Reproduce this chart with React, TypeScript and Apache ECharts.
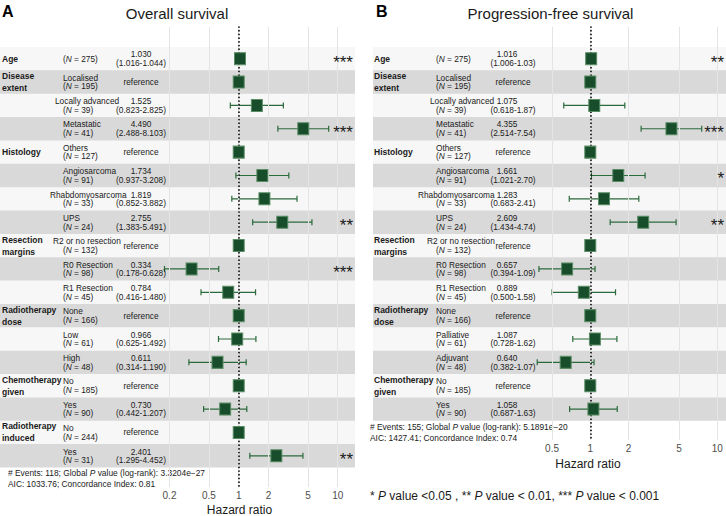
import React, { useEffect, useRef } from 'react';
import * as echarts from 'echarts';

const FONT = '"Liberation Sans", Arial, Helvetica, sans-serif';

// ---------- Panel A: Overall survival ----------
const osVariables = ['Age', 'Disease\nextent', '', '', 'Histology', '', '', '', 'Resection\nmargins', '', '', 'Radiotherapy\ndose', '', '', 'Chemotherapy\ngiven', '', 'Radiotherapy\ninduced', ''];
const osLevels = ['', 'Localised', 'Locally advanced', 'Metastatic', 'Others', 'Angiosarcoma', 'Rhabdomyosarcoma', 'UPS', 'R2 or no resection', 'R0 Resection', 'R1 Resection', 'None', 'Low', 'High', 'No', 'Yes', 'No', 'Yes'];
const osN = [275, 195, 39, 41, 127, 91, 33, 24, 132, 98, 45, 166, 61, 48, 185, 90, 244, 31];
const osHR = [1.030, null, 1.525, 4.490, null, 1.734, 1.819, 2.755, null, 0.334, 0.784, null, 0.966, 0.611, null, 0.730, null, 2.401];
const osLower = [1.016, null, 0.823, 2.488, null, 0.937, 0.852, 1.383, null, 0.178, 0.416, null, 0.625, 0.314, null, 0.442, null, 1.295];
const osUpper = [1.044, null, 2.825, 8.103, null, 3.208, 3.882, 5.491, null, 0.628, 1.480, null, 1.492, 1.190, null, 1.207, null, 4.452];
const osStars = ['***', '', '', '***', '', '', '', '**', '', '***', '', '', '', '', '', '', '', '**'];
const osTicks = [0.2, 0.5, 1, 2, 5, 10];
const osFooter = ['# Events: 118; Global {i|P} value (log-rank): 3.3204e\u221227', 'AIC: 1033.76; Concordance Index: 0.81'];

// ---------- Panel B: Progression-free survival ----------
const pfsVariables = ['Age', 'Disease\nextent', '', '', 'Histology', '', '', '', 'Resection\nmargins', '', '', 'Radiotherapy\ndose', '', '', 'Chemotherapy\ngiven', ''];
const pfsLevels = ['', 'Localised', 'Locally advanced', 'Metastatic', 'Others', 'Angiosarcoma', 'Rhabdomyosarcoma', 'UPS', 'R2 or no resection', 'R0 Resection', 'R1 Resection', 'None', 'Palliative', 'Adjuvant', 'No', 'Yes'];
const pfsN = [275, 195, 39, 41, 127, 91, 33, 24, 132, 98, 45, 166, 61, 48, 185, 90];
const pfsHR = [1.016, null, 1.075, 4.355, null, 1.661, 1.283, 2.609, null, 0.657, 0.889, null, 1.087, 0.640, null, 1.058];
const pfsLower = [1.006, null, 0.618, 2.514, null, 1.021, 0.683, 1.434, null, 0.394, 0.500, null, 0.728, 0.382, null, 0.687];
const pfsUpper = [1.03, null, 1.87, 7.54, null, 2.70, 2.41, 4.74, null, 1.09, 1.58, null, 1.62, 1.07, null, 1.63];
const pfsStars = ['**', '', '', '***', '', '*', '', '**', '', '', '', '', '', '', '', ''];
const pfsTicks = [0.5, 1, 2, 5, 10];
const pfsFooter = ['# Events: 155; Global {i|P} value (log-rank): 5.1891e\u221220', 'AIC: 1427.41; Concordance Index: 0.74'];

const legendText = '* {i|P} value <0.05 , ** {i|P} value < 0.01, *** {i|P} value < 0.001';

// ---------- layout (pixels) ----------
const ROW_H = 23.36;
const ROW_FONT = 8.3;
const layoutA = {
  grid: { left: 0, top: 27, width: 355, height: 460 },
  xMin: 0.00388, xMax: 14.95,
  varX: 2, levelX: 63, estX: 141, ciX: 141, starX: 353,
  levelShift: { 'Locally advanced': -8, 'Rhabdomyosarcoma': -13, 'R2 or no resection': -10 } as Record<string, number>,
  upperDigits: 3,
  title: 'Overall survival', titleX: 177, letter: 'A', letterX: 2,
  axisTitleX: 239.5, axisTitleY: 510,
  footerX: 8, footerY: [473, 484],
};
const layoutB = {
  grid: { left: 373, top: 27, width: 353, height: 413 },
  xMin: 0.01945, xMax: 11.71,
  varX: 374, levelX: 436, estX: 507, ciX: 513, starX: 724,
  levelShift: { 'Locally advanced': -6, 'Rhabdomyosarcoma': -18, 'R2 or no resection': -9 } as Record<string, number>,
  upperDigits: 2,
  title: 'Progression-free survival', titleX: 550.5, letter: 'B', letterX: 376,
  axisTitleX: 588, axisTitleY: 464,
  footerX: 370, footerY: [427, 438],
};

const TXT = '#1a1a1a';
const richItalic = (size: number) => ({ i: { fontStyle: 'italic', fontSize: size, fontFamily: FONT, fill: TXT } });

function txt(x: number, y: number, text: string, extra: any = {}) {
  return {
    type: 'text', x, y, silent: true,
    style: { text, fill: TXT, fontSize: ROW_FONT, fontFamily: FONT, align: 'left', verticalAlign: 'middle', ...extra },
  };
}

type Panel = {
  variables: string[]; levels: string[]; n: number[];
  hr: (number | null)[]; lower: (number | null)[]; upper: (number | null)[];
  stars: string[]; ticks: number[];
};

function buildPanel(p: Panel, L: typeof layoutA, idx: number) {
  const rows = p.levels.map((_, i) => i);
  const yMin = -0.5 - (47 - L.grid.top) / ROW_H;
  const yMax = yMin + L.grid.height / ROW_H;
  const grid = { ...L.grid, containLabel: false };
  const xAxis = {
    type: 'log', gridIndex: idx, min: L.xMin, max: L.xMax,
    axisLine: { show: false }, axisTick: { show: false }, axisLabel: { show: false }, splitLine: { show: false },
  };
  const yAxis = {
    type: 'value', gridIndex: idx, inverse: true, min: yMin, max: yMax,
    axisLine: { show: false }, axisTick: { show: false }, axisLabel: { show: false }, splitLine: { show: false },
  };
  const common = { xAxisIndex: idx, yAxisIndex: idx, silent: true, animation: false };
  const series: any[] = [
    {
      ...common, type: 'scatter', data: [], z: 1,
      markLine: {
        silent: true, symbol: 'none', animation: false,
        lineStyle: { color: '#e4e4e4', width: 1, type: 'solid' },
        label: { show: true, position: 'end', formatter: '{b}', color: '#4d4d4d', fontSize: 10, fontFamily: FONT, distance: 3 },
        data: p.ticks.map((v) => ({ xAxis: v, name: String(v) })),
      },
    },
    {
      ...common, type: 'scatter', data: [], z: 2,
      markArea: {
        silent: true, animation: false,
        data: rows.map((i) => [
          { yAxis: i - 0.5, itemStyle: { color: i % 2 ? 'rgba(0,0,0,0.15)' : 'rgba(0,0,0,0.03)' } },
          { yAxis: i + 0.5 },
        ]),
      },
    },
    {
      ...common, type: 'scatter', data: [], z: 3,
      markLine: {
        silent: true, symbol: 'none', animation: false, label: { show: false },
        lineStyle: { color: '#000', width: 1.7, type: [0.1, 3.6], cap: 'round' },
        data: [{ xAxis: 1 }],
      },
    },
    {
      ...common, type: 'custom', z: 4,
      data: rows.filter((i) => p.hr[i] != null).map((i) => [p.lower[i], p.upper[i], i]),
      encode: { x: [0, 1], y: 2 },
      renderItem: (_params: any, api: any) => {
        const a = api.coord([api.value(0), api.value(2)]);
        const b = api.coord([api.value(1), api.value(2)]);
        const c = 3;
        const st = { stroke: '#2a6a3b', lineWidth: 1.2 };
        return {
          type: 'group',
          children: [
            { type: 'line', shape: { x1: a[0], y1: a[1], x2: b[0], y2: b[1] }, style: st },
            { type: 'line', shape: { x1: a[0], y1: a[1] - c, x2: a[0], y2: a[1] + c }, style: st },
            { type: 'line', shape: { x1: b[0], y1: b[1] - c, x2: b[0], y2: b[1] + c }, style: st },
          ],
        };
      },
    },
    {
      ...common, type: 'scatter', z: 5, symbol: 'rect', symbolSize: [11, 12],
      itemStyle: { color: '#184d2b', borderColor: '#5a8d64', borderWidth: 1, opacity: 1 },
      data: rows.map((i) => [p.hr[i] == null ? 1 : p.hr[i], i]),
    },
    {
      ...common, type: 'custom', z: 6, clip: false,
      data: rows.map((i) => [1, i]),
      encode: { x: 0, y: 1 },
      renderItem: (_params: any, api: any) => {
        const i = api.value(1);
        const y = api.coord([1, i])[1];
        const ch: any[] = [];
        const v = p.variables[i];
        if (v) ch.push(txt(L.varX, y, v, { fontWeight: 'bold', fontSize: 8.5, lineHeight: 12 }));
        const lvl = p.levels[i];
        const nStr = `({i|N} = ${p.n[i]})`;
        const nExtra = { rich: richItalic(ROW_FONT) };
        if (lvl) {
          ch.push(txt(L.levelX + (L.levelShift[lvl] || 0), y - 4.3, lvl));
          ch.push(txt(L.levelX, y + 4.3, nStr, nExtra));
        } else {
          ch.push(txt(L.levelX, y, nStr, nExtra));
        }
        const hr = p.hr[i];
        if (hr == null) {
          ch.push(txt(L.ciX, y, 'reference', { align: 'center' }));
        } else {
          ch.push(txt(L.estX, y - 4.3, hr.toFixed(3), { align: 'center' }));
          const ci = `(${(p.lower[i] as number).toFixed(3)}-${(p.upper[i] as number).toFixed(L.upperDigits)})`;
          ch.push(txt(L.ciX, y + 4.3, ci, { align: 'center' }));
        }
        if (p.stars[i]) ch.push(txt(L.starX, y + 3.5, p.stars[i], { align: 'right', fontSize: 17 }));
        return { type: 'group', children: ch };
      },
    },
  ];
  const graphics: any[] = [
    txt(L.letterX, 11, L.letter, { fontSize: 16, fontWeight: 'bold', fill: '#000' }),
    txt(L.titleX, 13, L.title, { fontSize: 15, align: 'center' }),
    txt(L.axisTitleX, L.axisTitleY, 'Hazard ratio', { fontSize: 12, align: 'center' }),
  ];
  return { grid, xAxis, yAxis, series, graphics };
}

export default function App() {
  const ref = useRef<HTMLDivElement>(null);
  useEffect(() => {
    document.body.style.margin = '0';
    if (!ref.current) return;
    const chart = echarts.init(ref.current, undefined, { renderer: 'svg' });
    const A = buildPanel({ variables: osVariables, levels: osLevels, n: osN, hr: osHR, lower: osLower, upper: osUpper, stars: osStars, ticks: osTicks }, layoutA, 0);
    const B = buildPanel({ variables: pfsVariables, levels: pfsLevels, n: pfsN, hr: pfsHR, lower: pfsLower, upper: pfsUpper, stars: pfsStars, ticks: pfsTicks }, layoutB as any, 1);
    const footers: any[] = [];
    [[layoutA, osFooter], [layoutB, pfsFooter]].forEach(([L, lines]: any) => {
      lines.forEach((line: string, k: number) => {
        footers.push(txt(L.footerX, L.footerY[k], line, { fontSize: 8.4, rich: richItalic(8.4) }));
      });
    });
    footers.push(txt(370, 496, legendText, { fontSize: 12, rich: richItalic(12) }));
    chart.setOption({
      animation: false,
      backgroundColor: '#ffffff',
      grid: [A.grid, B.grid],
      xAxis: [A.xAxis, B.xAxis],
      yAxis: [A.yAxis, B.yAxis],
      series: [...A.series, ...B.series],
      graphic: { elements: [...A.graphics, ...B.graphics, ...footers] },
    });
    return () => chart.dispose();
  }, []);
  return <div ref={ref} style={{ width: 726, height: 516 }} />;
}
